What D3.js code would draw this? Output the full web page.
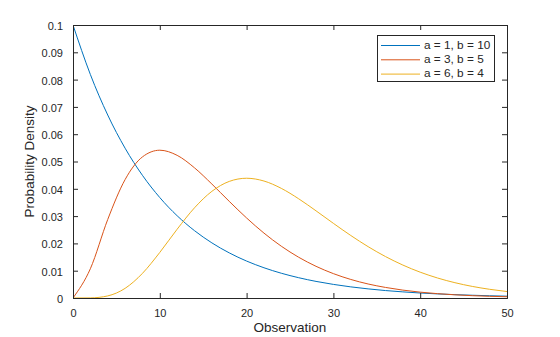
<!DOCTYPE html>
<html><head><meta charset="utf-8">
<script src="https://cdn.jsdelivr.net/npm/d3@7"></script>
<style>body{margin:0;background:#fff}svg{display:block}text{font-family:"Liberation Sans",Arial,sans-serif;fill:#262626}</style>
</head><body>
<svg id="c" width="560" height="337"></svg>
<script>
const xs = [0,2,4,6,8,10,12,14,16,18,20,22,24,26,28,30,32,34,36,38,40,42,44,46,48,50];
const s1 = [0.1,0.08187,0.06703,0.05488,0.04493,0.03679,0.03012,0.02466,0.02019,0.01653,0.01353,0.01108,0.00907,0.00743,0.00608,0.00498,0.00408,0.00334,0.00273,0.00224,0.00183,0.0015,0.00123,0.00101,0.00082,0.00067];
const s2 = [0,0.010725,0.028757,0.043371,0.051686,0.054134,0.052255,0.047675,0.041738,0.035407,0.029312,0.023774,0.018962,0.014926,0.011603,0.008928,0.006799,0.005133,0.003873,0.002888,0.002144,0.001588,0.001169,0.000855,0.000624,0.000454];
const s3 = [0,0.0000395,0.000766,0.00353,0.009023,0.0167,0.025205,0.033042,0.039074,0.042707,0.043867,0.04285,0.040157,0.036341,0.031929,0.027343,0.022901,0.018808,0.015182,0.012066,0.009458,0.007322,0.005604,0.004245,0.003185,0.002369];
const seriesNames = ["a = 1, b = 10","a = 3, b = 5","a = 6, b = 4"];
const colors = ["#0072BD","#D95319","#EDB120"];
const xTicks = [0,10,20,30,40,50];
const yTicks = [0,0.01,0.02,0.03,0.04,0.05,0.06,0.07,0.08,0.09,0.1];

const svg = d3.select("#c");
const L=73,R=507,T=25,B=298;
const x = d3.scaleLinear().domain([0,50]).range([L,R]);
const y = d3.scaleLinear().domain([0,0.1]).range([B,T]);

const series=[s1,s2,s3];
const line = d3.line().x((d,i)=>x(xs[i])).y(d=>y(d)).curve(d3.curveMonotoneX);
svg.append("clipPath").attr("id","cp").append("rect").attr("x",L).attr("y",T).attr("width",R-L).attr("height",B-T);
series.forEach((s,k)=>{
  svg.append("path").attr("d",line(s)).attr("fill","none").attr("stroke",colors[k]).attr("stroke-width",1).attr("clip-path","url(#cp)");
});

const tl=5;
const fmt = d=> d===0?"0":String(+d.toFixed(2));
const gx = svg.append("g").attr("transform",`translate(0,${B})`).call(d3.axisBottom(x).tickValues(xTicks).tickSize(-tl).tickPadding(11));
const gxt = svg.append("g").attr("transform",`translate(0,${T})`).call(d3.axisTop(x).tickValues(xTicks).tickSize(-tl).tickFormat(""));
const gy = svg.append("g").attr("transform",`translate(${L},0)`).call(d3.axisLeft(y).tickValues(yTicks).tickSize(-tl).tickPadding(10).tickFormat(fmt));
const gyr = svg.append("g").attr("transform",`translate(${R},0)`).call(d3.axisRight(y).tickValues(yTicks).tickSize(-tl).tickFormat(""));
[gx,gxt,gy,gyr].forEach(g=>{
  g.selectAll(".domain").attr("stroke","#262626").attr("stroke-width",1);
  g.selectAll(".tick line").attr("stroke","#262626");
  g.selectAll("text").attr("font-size",11).attr("fill","#262626").attr("font-family","Liberation Sans, Arial, sans-serif");
});
gy.selectAll("text").attr("dy","0.4em");

svg.append("text").attr("x",(L+R)/2).attr("y",332).attr("text-anchor","middle").attr("font-size",13.5).text("Observation");
svg.append("text").attr("transform",`translate(30,${(T+B)/2}) rotate(-90)`).attr("text-anchor","middle").attr("dominant-baseline","middle").attr("font-size",13.5).text("Probability Density");

// legend
const lg = svg.append("g");
lg.append("rect").attr("x",377.5).attr("y",35.5).attr("width",117).attr("height",46).attr("fill","#fff").attr("stroke","#262626").attr("stroke-width",1);
seriesNames.forEach((n,k)=>{
  const yy = 45.5 + k*14.3;
  lg.append("line").attr("x1",381).attr("x2",420).attr("y1",yy).attr("y2",yy).attr("stroke",colors[k]).attr("stroke-width",1);
  lg.append("text").attr("x",424).attr("y",yy).attr("dominant-baseline","middle").attr("font-size",11.8).text(n);
});
</script>
</body></html>
